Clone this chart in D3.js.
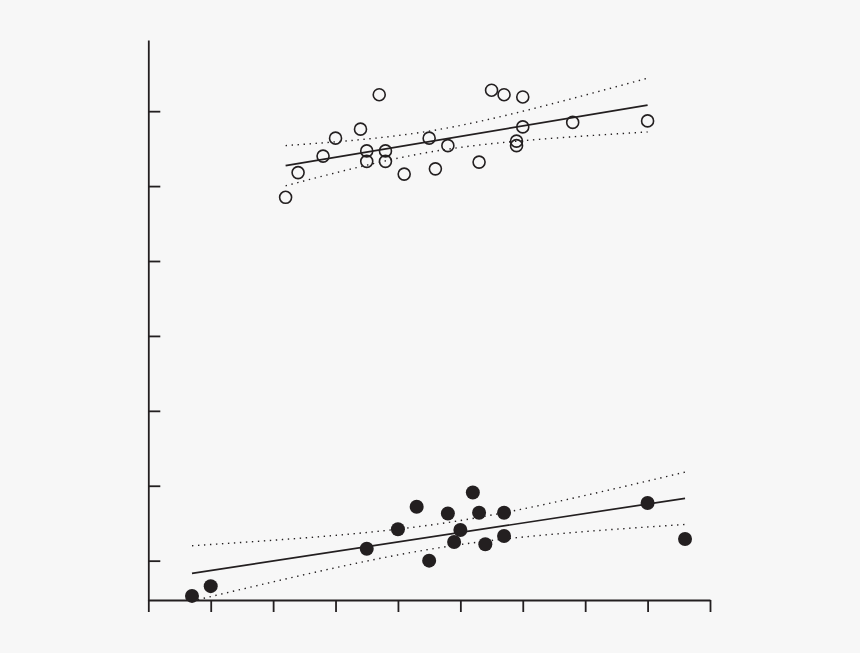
<!DOCTYPE html>
<html>
<head>
<meta charset="utf-8">
<script src="https://cdn.jsdelivr.net/npm/d3@7"></script>
<style>
  html, body { margin: 0; padding: 0; background: #f7f7f7; }
  svg { display: block; }
</style>
</head>
<body>
<svg id="chart" width="860" height="653"></svg>
<script>
// values
const openX = [2.2, 2.4, 2.8, 3.0, 3.4, 3.7, 3.5, 3.5, 3.8, 3.8, 4.1, 4.5, 4.6, 4.8, 5.3, 5.5, 5.7, 6.0, 6.0, 5.9, 5.9, 6.8, 8.0];
const openY = [5.85, 6.18, 6.40, 6.64, 6.76, 7.22, 6.47, 6.33, 6.47, 6.33, 6.16, 6.64, 6.23, 6.54, 6.32, 7.28, 7.22, 7.19, 6.79, 6.60, 6.54, 6.85, 6.87];
const filledX = [0.7, 1.0, 3.5, 4.0, 4.3, 4.5, 4.8, 4.9, 5.0, 5.2, 5.3, 5.4, 5.7, 5.7, 8.0, 8.6];
const filledY = [0.53, 0.66, 1.16, 1.42, 1.72, 1.00, 1.63, 1.25, 1.41, 1.91, 1.64, 1.22, 1.64, 1.33, 1.77, 1.29];
const xTicks = [0, 1, 2, 3, 4, 5, 6, 7, 8, 9];
const yTicks = [1, 2, 3, 4, 5, 6, 7];

const INK = '#231f20';
const svg = d3.select('#chart');

const x = d3.scaleLinear().domain([0, 9]).range([148.3, 710]);
const y = d3.scaleLinear().domain([0.475, 7.95]).range([600, 40]);

// axes, no labels
const xAxis = svg.append('g')
  .attr('transform', 'translate(0,600)')
  .call(d3.axisBottom(x).tickValues(xTicks).tickSize(12).tickSizeOuter(0).tickFormat(''));
const yAxis = svg.append('g')
  .attr('transform', 'translate(148.3,0)')
  .call(d3.axisLeft(y).tickValues(yTicks).tickSize(-12).tickSizeOuter(0).tickFormat(''));
[xAxis, yAxis].forEach(function (g) {
  g.selectAll('path, line').attr('stroke', INK).attr('stroke-width', 1.8);
});

// student t quantile (0.975), Cornish-Fisher expansion
function tCrit (df) {
  const z = 1.959964;
  const z3 = z * z * z, z5 = z3 * z * z, z7 = z5 * z * z;
  return z + (z3 + z) / (4 * df) +
    (5 * z5 + 16 * z3 + 3 * z) / (96 * df * df) +
    (3 * z7 + 19 * z5 + 17 * z3 - 15 * z) / (384 * df * df * df);
}

function regression (xs, ys) {
  const n = xs.length;
  const mx = d3.mean(xs), my = d3.mean(ys);
  let sxx = 0, sxy = 0;
  xs.forEach(function (v, i) {
    sxx += (v - mx) * (v - mx);
    sxy += (v - mx) * (ys[i] - my);
  });
  const b = sxy / sxx;
  const a = my - b * mx;
  let sse = 0;
  xs.forEach(function (v, i) {
    const r = ys[i] - (a + b * v);
    sse += r * r;
  });
  const s = Math.sqrt(sse / (n - 2));
  const t = tCrit(n - 2);
  const lo = d3.min(xs), hi = d3.max(xs);
  const grid = d3.range(0, 61).map(function (k) { return lo + (hi - lo) * k / 60; });
  const band = grid.map(function (v) {
    const fit = a + b * v;
    const hw = t * s * Math.sqrt(1 / n + (v - mx) * (v - mx) / sxx);
    return { x: v, fit: fit, upper: fit + hw, lower: fit - hw };
  });
  return band;
}

function drawGroup (xs, ys, filled) {
  const band = regression(xs, ys);
  const g = svg.append('g');

  const line = function (key) {
    return d3.line().x(function (d) { return x(d.x); }).y(function (d) { return y(d[key]); });
  };
  ['upper', 'lower'].forEach(function (key) {
    g.append('path')
      .datum(band)
      .attr('d', line(key))
      .attr('fill', 'none')
      .attr('stroke', INK)
      .attr('stroke-width', 1.4)
      .attr('stroke-dasharray', '1.4 4.6');
  });
  g.append('path')
    .datum([band[0], band[band.length - 1]])
    .attr('d', line('fit'))
    .attr('fill', 'none')
    .attr('stroke', INK)
    .attr('stroke-width', 1.7);

  g.selectAll('circle')
    .data(xs.map(function (v, i) { return [v, ys[i]]; }))
    .join('circle')
    .attr('cx', function (d) { return x(d[0]); })
    .attr('cy', function (d) { return y(d[1]); })
    .attr('r', filled ? 7 : 6)
    .attr('fill', filled ? INK : 'none')
    .attr('stroke', filled ? 'none' : INK)
    .attr('stroke-width', 1.6);
}

drawGroup(openX, openY, false);
drawGroup(filledX, filledY, true);
</script>
</body>
</html>
